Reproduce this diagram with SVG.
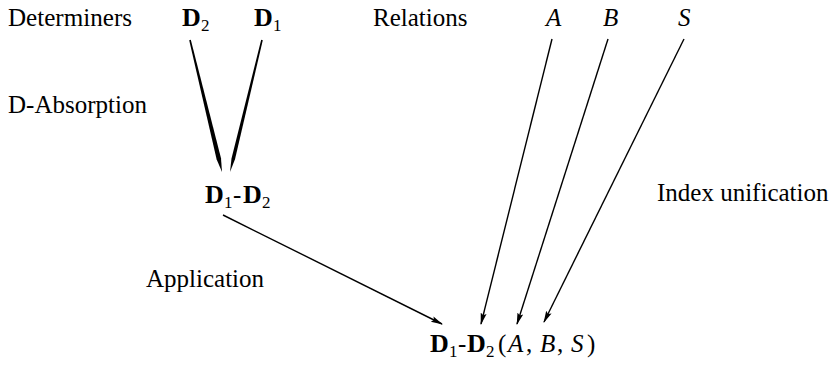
<svg xmlns="http://www.w3.org/2000/svg" width="838" height="365" viewBox="0 0 838 365" font-family="Liberation Serif, serif">
<style>
  text { font-family: 'Liberation Serif', 'Times New Roman', Times, serif; font-size: 25px; fill: #000; }
  .b { font-weight: bold; font-size: 26px; }
  .i { font-style: italic; }
  .sub { font-size: 17px; }
  .arr { stroke: #000; stroke-width: 1.4; fill: none; marker-end: url(#ah); }
  .wedge { fill: #000; stroke: none; }
</style>
<defs>
  <marker id="ah" viewBox="0 0 12 8" refX="11" refY="4" markerWidth="12" markerHeight="8" markerUnits="userSpaceOnUse" orient="auto">
    <path d="M0,1 L12,4 L0,7 L2,4 Z" fill="#000"/>
  </marker>
</defs>
<rect width="838" height="365" fill="#fff"/>

<g id="connectors">
  <polygon class="wedge" points="189.2,40.2 190.8,39.8 221.0,158.3 222,172 216.6,159.3"/>
  <polygon class="wedge" points="261.2,39.8 262.8,40.2 235.0,159.2 230,172 231.5,158.4"/>
  <line class="arr" x1="223" y1="215" x2="442" y2="324"/>
  <line class="arr" x1="552" y1="39" x2="481" y2="324"/>
  <line class="arr" x1="608" y1="39" x2="517" y2="324"/>
  <line class="arr" x1="684" y1="39" x2="544" y2="322"/>
</g>

<g id="label-determiners"><text x="8" y="26" textLength="124" lengthAdjust="spacingAndGlyphs">Determiners</text></g>
<g id="node-d2"><text x="182" y="26"><tspan class="b">D</tspan><tspan class="sub" x="201" dy="5">2</tspan></text></g>
<g id="node-d1"><text x="254" y="26"><tspan class="b">D</tspan><tspan class="sub" x="273" dy="5">1</tspan></text></g>
<g id="label-relations"><text x="373" y="26">Relations</text></g>
<g id="node-a"><text x="546" y="26" class="i">A</text></g>
<g id="node-b"><text x="603" y="26" class="i">B</text></g>
<g id="node-s"><text x="678" y="26" class="i">S</text></g>
<g id="label-dabsorption"><text x="8" y="113">D-Absorption</text></g>
<g id="node-d1d2"><text x="205" y="203"><tspan class="b">D</tspan><tspan class="sub" x="224" dy="5">1</tspan><tspan x="233" dy="-5">-</tspan><tspan class="b" x="243">D</tspan><tspan class="sub" x="262" dy="5">2</tspan></text></g>
<g id="label-index"><text x="657" y="201">Index unification</text></g>
<g id="label-application"><text x="146" y="287">Application</text></g>
<g id="node-result"><text x="430" y="352"><tspan class="b">D</tspan><tspan class="sub" x="449" dy="5">1</tspan><tspan x="458" dy="-5">-</tspan><tspan class="b" x="467">D</tspan><tspan class="sub" x="486" dy="5">2</tspan><tspan x="498" dy="-5">(</tspan><tspan class="i" x="508">A</tspan><tspan x="526">,</tspan><tspan class="i" x="540">B</tspan><tspan x="557">,</tspan><tspan class="i" x="571">S</tspan><tspan x="587">)</tspan></text></g>
</svg>
